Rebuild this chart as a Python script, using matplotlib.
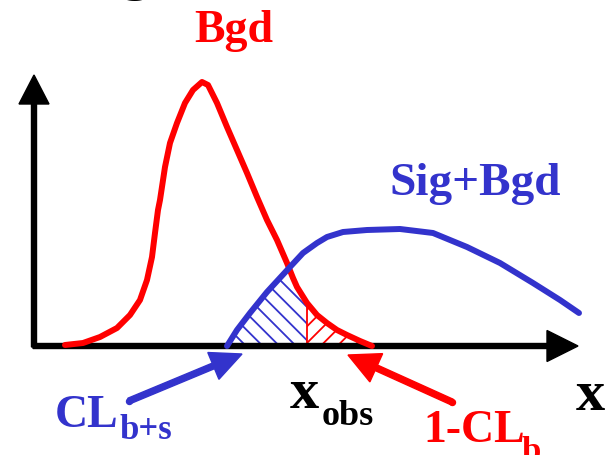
import numpy as np
import matplotlib
matplotlib.use('Agg')
import matplotlib.pyplot as plt

# coordinates: x measured from the axis origin to the right, y = height above the x axis
bgd_x = [30, 48, 65, 82, 95, 105, 112, 117, 120, 123, 125, 130, 135, 142, 150, 158, 167,
         173, 182, 192, 202, 212, 222, 232, 242, 252, 258, 262, 272, 282, 292, 302, 312, 325, 337]
bgd_y = [1, 3, 9, 18, 31, 46, 66, 89, 113, 136, 146, 179, 203, 223, 243, 256, 264,
         261, 243, 219, 196, 173, 149, 126, 106, 83, 68, 59, 43, 31, 23, 16, 11, 5, 0]

sig_x = [192, 202, 215, 232, 255, 268, 282, 292, 308, 332, 365, 398, 432, 465, 498, 525, 544]
sig_y = [0, 16, 33, 54, 79, 93, 103, 109, 114, 116, 117, 113, 99, 83, 63, 46, 33]

x_obs = 272
x_cross = 255

red = '#ff0000'
blue = '#3333cc'
font = 'Liberation Serif'

plt.rcParams['hatch.linewidth'] = 1.3

fig = plt.figure(figsize=(6.07, 4.55), dpi=100)
ax = fig.add_axes([0, 0, 1, 1])
ax.set_xlim(-35, 572)
ax.set_ylim(-109, 346)
ax.axis('off')

bgd_x = np.array(bgd_x)
bgd_y = np.array(bgd_y)
sig_x = np.array(sig_x)
sig_y = np.array(sig_y)

# CL_b+s region: under the sig+bgd curve up to the crossing, then under bgd up to x_obs
m1 = sig_x <= x_cross
m2 = (bgd_x > x_cross) & (bgd_x <= x_obs)
px = np.concatenate([sig_x[m1], bgd_x[m2], [x_obs]])
py = np.concatenate([sig_y[m1], bgd_y[m2], [0]])
ax.fill(px, py, facecolor='none', edgecolor=blue, hatch='\\\\', linewidth=0, zorder=1)

# 1-CL_b region: under bgd right of x_obs
m3 = bgd_x >= x_obs
px = np.concatenate([[x_obs], bgd_x[m3]])
py = np.concatenate([[0], bgd_y[m3]])
ax.fill(px, py, facecolor='none', edgecolor=red, hatch='//', linewidth=0, zorder=1)
ax.plot([x_obs, x_obs], [0, bgd_y[bgd_x == x_obs][0]], color=red, lw=1.3, zorder=1)

# axes with arrows
ax.arrow(-2, 0, 545, 0, width=5, head_width=31, head_length=31,
         length_includes_head=True, color='black', zorder=2)
ax.arrow(-1, -1, 0, 272, width=5, head_width=30, head_length=29,
         length_includes_head=True, color='black', zorder=2)

# curves
ax.plot(bgd_x, bgd_y, color=red, lw=4.3, solid_capstyle='round', solid_joinstyle='round', zorder=3)
ax.plot(sig_x, sig_y, color=blue, lw=4.3, solid_capstyle='round', solid_joinstyle='round', zorder=3)

# annotation arrows
ax.arrow(94, -55, 113, 47, width=6, head_width=29, head_length=31,
         length_includes_head=True, color=blue, zorder=3)
ax.plot([94], [-55], 'o', color=blue, ms=4.3, zorder=3)
ax.arrow(417, -56, -104, 47, width=6, head_width=31, head_length=31,
         length_includes_head=True, color=red, zorder=3)
ax.plot([417], [-56], 'o', color=red, ms=4.3, zorder=3)

# labels
tk = dict(family=font, fontweight='bold', va='baseline')
ax.text(86, 357, 'g', color='black', fontsize=42, **tk)
ax.text(199, 304, 'Bgd', color=red, fontsize=33, ha='center', **tk)
ax.text(440, 151, 'Sig+Bgd', color=blue, fontsize=34, ha='center', **tk)
ax.text(20, -81, 'CL', color=blue, fontsize=33, ha='left', **tk)
ax.text(85, -93, 'b+s', color=blue, fontsize=25, ha='left', **tk)
ax.text(255, -62, 'x', color='black', fontsize=42, ha='left', **tk)
ax.text(287, -79, 'obs', color='black', fontsize=26, ha='left', **tk)
ax.text(388, -96, '1-CL', color=red, fontsize=33, ha='left', **tk)
ax.text(487, -115, 'b', color=red, fontsize=25, ha='left', **tk)
ax.text(541, -64, 'x', color='black', fontsize=42, ha='left', **tk)

fig.savefig('out.png', dpi=100)
